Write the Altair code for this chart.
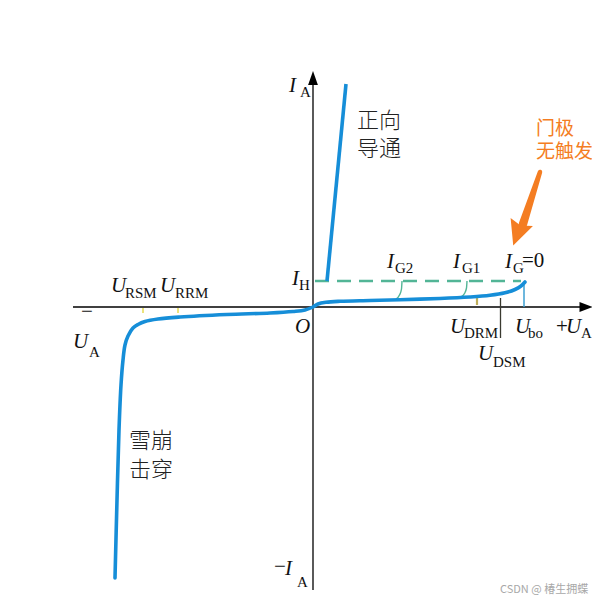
import altair as alt
import pandas as pd

# Diagram units: origin at the axis crossing, U to the right, I upwards.
# ---- main characteristic (reverse branch -> forward blocking branch) ----
curve_u = [-198, -196, -194, -192, -190, -188, -185, -180, -175, -168, -155, -133,
           -86, -43, -20, -8, 0, 5, 13, 27, 57, 87, 127, 157, 177, 192, 202, 208, 212]
curve_i = [-271, -193, -123, -78, -53, -38, -29, -21, -17.5, -14.5, -12, -10,
           -7.5, -6, -4.5, -3, 0, 3, 4.7, 5.7, 6.5, 7.3, 8.5, 10, 11.7, 14.2, 17.5, 21, 25]

# forward conduction branch
on_u = [14, 33]
on_i = [26, 223]

# holding current level (dashed)
hold_u = [2, 208]
hold_i = [26, 26]

# gate-current curves (thin)
ig2_u = [89, 88.5, 86.5, 83]
ig2_i = [26, 18, 12, 8]
ig1_u = [154, 153.5, 151.5, 148]
ig1_i = [26, 19, 13.5, 10]

# axes
axis_x = [-240, 273]
axis_y = [-283, 229]

# voltage markers
tick_names = ["URSM", "URRM", "UDRM", "UDSM", "Ubo"]
tick_u = [-170, -135, 164, 187.5, 211]
tick_i0 = [-1, -1, 2, 9, 0]
tick_i1 = [-6, -6, 11, -31, 22]
tick_col = ["#E8DC5A", "#E8DC5A", "#BFAE5A", "#3A3A30", "#3C9FD2"]
tick_w = [1.6, 1.6, 2.2, 1.3, 1.5]

# orange annotation arrow
arr_u = [227, 210]
arr_i = [135, 83]
arr_w = [4.5, 8.5]
head_u = [204.5]
head_i = [73.2]

# labels
it_txt = ["I", "I", "O", "I", "I", "I", "U", "U", "U", "U", "U", "U", "U", "I"]
it_u = [-24, -21, -18, 74, 140, 192, -202, -153, -240, 137, 202, 253, 165, -28]
it_i = [215, 22, -26, 39, 39, 39, 15, 15, -41, -26, -26, -26, -53, -268]

sub_txt = ["A", "H", "G2", "G1", "G", "RSM", "RRM", "A", "DRM", "bo", "A", "DSM", "A"]
sub_u = [-13, -14, 82, 149, 200, -188, -138, -224, 151, 215, 268, 180, -16]
sub_i = [210, 17, 34, 34, 34, 9, 9, -50, -31, -31, -31, -60, -280]

rm_txt = ["=0", "+", "\u2212", "\u2212"]
rm_u = [209, 243, -232, -39]
rm_i = [40, -26, -11, -266]

cjk_txt = ["正向", "导通", "雪崩", "击穿"]
cjk_u = [44, 44, -184, -184]
cjk_i = [179, 151, -141, -170]

note_txt = ["门极", "无触发"]
note_u = [223, 223]
note_i = [172, 149]

wm_txt = ["CSDN @ 椿生拥蝶"]
wm_u = [187]
wm_i = [-286]

BLUE = "#168ED8"
TEAL = "#52B596"
ORANGE = "#F47D22"
SERIF = "Liberation Serif, Times New Roman, serif"
CJK = "Noto Sans CJK SC"

XS = alt.Scale(domain=[-305, 279], nice=False, zero=False)
YS = alt.Scale(domain=[-289, 299], nice=False, zero=False)


def X(f="u"):
    return alt.X(f"{f}:Q", scale=XS, axis=None)


def Y(f="i"):
    return alt.Y(f"{f}:Q", scale=YS, axis=None)


def line_df(u, i):
    return pd.DataFrame({"u": u, "i": i, "k": list(range(len(u)))})


def line_layer(u, i, **kw):
    return alt.Chart(line_df(u, i)).mark_line(**kw).encode(
        x=X(), y=Y(), order=alt.Order("k:Q"))


def text_layer(txt, u, i, **kw):
    df = pd.DataFrame({"t": txt, "u": u, "i": i})
    return alt.Chart(df).mark_text(align="left", baseline="alphabetic", **kw).encode(
        x=X(), y=Y(), text="t:N")


axes = alt.Chart(pd.DataFrame({"u": [axis_x[0], 0], "u2": [axis_x[1], 0],
                               "i": [0, axis_y[0]], "i2": [0, axis_y[1]]})).mark_rule(
    color="black", strokeWidth=1.3).encode(x=X(), x2="u2:Q", y=Y(), y2="i2:Q")

heads = alt.Chart(pd.DataFrame({"u": [axis_x[1]], "i": [0]})).mark_point(
    shape="M1,0L-1,-0.78L-1,0.78Z", size=169, filled=True, color="black", opacity=1,
    strokeWidth=0).encode(x=X(), y=Y())
heads_up = alt.Chart(pd.DataFrame({"u": [0], "i": [axis_y[1]]})).mark_point(
    shape="M0,-1L-0.7,1L0.7,1Z", size=196, filled=True, color="black", opacity=1,
    strokeWidth=0).encode(x=X(), y=Y())

ticks = alt.Chart(pd.DataFrame({"n": tick_names, "u": tick_u, "i": tick_i0, "i2": tick_i1,
                                "c": tick_col, "w": tick_w})).mark_rule().encode(
    x=X(), y=Y(), y2="i2:Q",
    color=alt.Color("c:N", scale=None),
    strokeWidth=alt.StrokeWidth("w:Q", scale=None))

hold = line_layer(hold_u, hold_i, color=TEAL, strokeWidth=2.4, strokeDash=[14, 8])
g2 = line_layer(ig2_u, ig2_i, color=TEAL, strokeWidth=1.4, interpolate="monotone")
g1 = line_layer(ig1_u, ig1_i, color=TEAL, strokeWidth=1.4, interpolate="monotone")
main = line_layer(curve_u, curve_i, color=BLUE, strokeWidth=3.6, interpolate="catmull-rom",
                  strokeCap="round")
on = line_layer(on_u, on_i, color=BLUE, strokeWidth=3.6)

shaft = alt.Chart(pd.DataFrame({"u": arr_u, "i": arr_i, "w": arr_w, "k": [0, 1]})).mark_trail(
    color=ORANGE).encode(x=X(), y=Y(), size=alt.Size("w:Q", scale=None), order=alt.Order("k:Q"))
ahead = alt.Chart(pd.DataFrame({"u": head_u, "i": head_i})).mark_point(
    shape="M0,-1L0.95,1L0,0.7L-0.95,1Z", size=625, angle=200, filled=True, color=ORANGE,
    opacity=1, strokeWidth=0).encode(x=X(), y=Y())

t_it = text_layer(it_txt, it_u, it_i, font=SERIF, fontSize=21, fontStyle="italic", color="#111")
t_sub = text_layer(sub_txt, sub_u, sub_i, font=SERIF, fontSize=15, color="#111")
t_rm = text_layer(rm_txt, rm_u, rm_i, font=SERIF, fontSize=21, color="#111")
t_cjk = text_layer(cjk_txt, cjk_u, cjk_i, font=CJK, fontSize=22, fontWeight=300, color="#222")
t_note = text_layer(note_txt, note_u, note_i, font=CJK, fontSize=19, color=ORANGE)
t_wm = text_layer(wm_txt, wm_u, wm_i, font=CJK, fontSize=11, color="#A8A8A8")

chart = alt.layer(
    axes, heads, heads_up, hold, g2, g1, ticks, main, on, shaft, ahead,
    t_it, t_sub, t_rm, t_cjk, t_note, t_wm
).properties(
    width=584, height=588, padding=0, background="white",
    autosize=alt.AutoSizeParams(type="none")
).configure_view(stroke=None)

chart.save("out.html", embed_options={"renderer": "svg", "actions": False})
